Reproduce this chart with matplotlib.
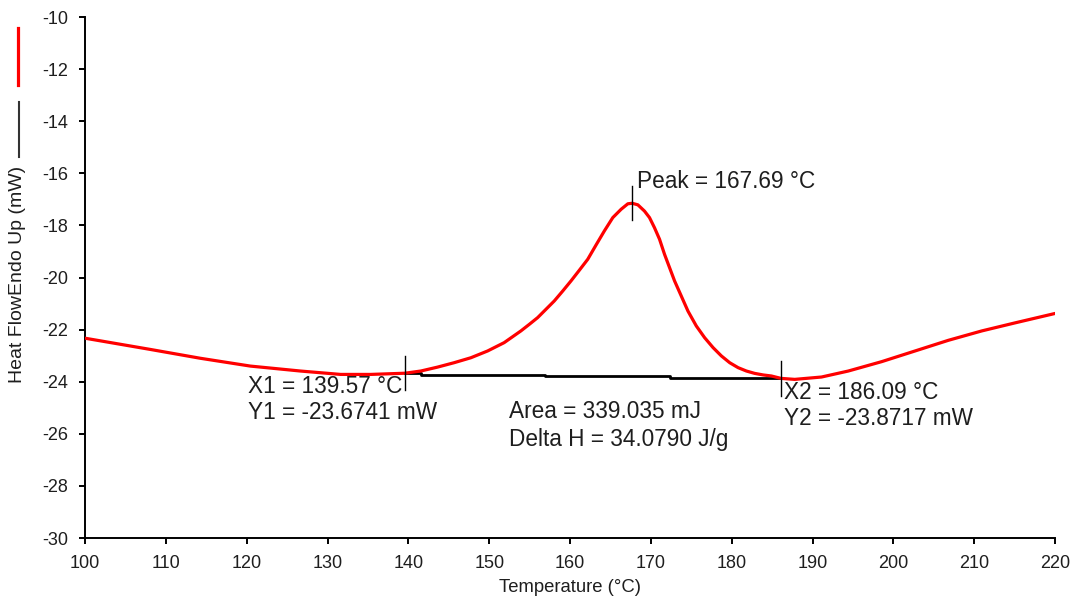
import matplotlib
matplotlib.use("Agg")
import matplotlib.pyplot as plt
from matplotlib.lines import Line2D

plt.rcParams['font.family'] = ['Liberation Sans', 'DejaVu Sans']
plt.rcParams['axes.unicode_minus'] = False

# ---- data ----
temperature = [100.0, 108.06, 114.26, 120.45, 126.65, 131.61, 135.33, 139.57,
               141.53, 143.6, 145.66, 147.73, 149.80, 151.85, 153.92, 154.95,
               155.99, 157.02, 158.05, 159.09, 160.12, 161.15, 162.19, 163.22,
               164.25, 165.29, 166.32, 167.15, 167.69, 168.39, 169.21, 169.83,
               170.45, 171.07, 171.69, 172.31, 172.93, 173.76, 174.59, 175.62,
               176.65, 177.69, 178.72, 179.75, 180.79, 181.82, 182.84, 183.88,
               184.91, 186.09, 187.80, 191.11, 194.42, 198.55, 202.68, 206.81,
               210.94, 215.07, 220.0]
heat_flow = [-22.33, -22.76, -23.10, -23.40, -23.59, -23.72, -23.72, -23.674,
             -23.59, -23.44, -23.27, -23.08, -22.82, -22.50, -22.05, -21.80,
             -21.54, -21.22, -20.90, -20.52, -20.13, -19.72, -19.30, -18.75,
             -18.21, -17.70, -17.38, -17.17, -17.15, -17.21, -17.45, -17.70,
             -18.09, -18.53, -19.11, -19.62, -20.13, -20.71, -21.29, -21.86,
             -22.31, -22.69, -23.01, -23.27, -23.46, -23.59, -23.68, -23.74,
             -23.78, -23.8717, -23.91, -23.82, -23.59, -23.23, -22.82, -22.41,
             -22.05, -21.74, -21.38]

baseline_t = [139.57, 141.53, 156.9, 172.4, 186.09]
baseline_hf = [-23.674, -23.735, -23.79, -23.872, -23.8717]

x1, y1 = 139.57, -23.6741
x2, y2 = 186.09, -23.8717
peak_t, peak_hf = 167.69, -17.15
area_text = "Area = 339.035 mJ"
dh_text = "Delta H = 34.0790 J/g"

x_ticks = list(range(100, 221, 10))
y_ticks = list(range(-30, -9, 2))

TXT = '#1e1e1e'

fig = plt.figure(figsize=(10.78, 6.01), dpi=100)
ax = fig.add_axes([0.0789, 0.1048, 0.8998, 0.8669])

ax.plot(temperature, heat_flow, color='#ff0000', lw=2.3, solid_joinstyle='round',
        solid_capstyle='round', zorder=3)
ax.step(baseline_t, baseline_hf, where='post', color='black', lw=2.0, zorder=2)

# tick marks at the limits and peak
for (xx, yy) in [(x1, y1), (x2, y2), (peak_t, peak_hf)]:
    ax.plot([xx, xx], [yy - 0.66, yy + 0.66], color='black', lw=1.0, zorder=4)

ax.set_xlim(100, 220)
ax.set_ylim(-30, -10)
ax.set_xticks(x_ticks)
ax.set_yticks(y_ticks)
for s in ['top', 'right']:
    ax.spines[s].set_visible(False)
for s in ['left', 'bottom']:
    ax.spines[s].set_linewidth(1.4)
ax.tick_params(direction='out', length=4, width=1.4, labelsize=13, pad=8, labelcolor=TXT)

ax.set_xlabel('Temperature (°C)', fontsize=13.3, color=TXT, labelpad=5)
ax.set_ylabel('Heat FlowEndo Up (mW)', fontsize=14, color=TXT)
ax.yaxis.set_label_coords(-0.061, 0.505)

fs = 16.3
ax.text(peak_t + 0.55, -16.30, f"Peak = {peak_t:.2f} °C", fontsize=fs, color=TXT, va='center', ha='left')
ax.text(120.2, -24.20, f"X1 = {x1:.2f} °C", fontsize=fs, color=TXT, va='center', ha='left')
ax.text(120.2, -25.20, f"Y1 = {y1:.4f} mW", fontsize=fs, color=TXT, va='center', ha='left')
ax.text(186.5, -24.43, f"X2 = {x2:.2f} °C", fontsize=fs, color=TXT, va='center', ha='left')
ax.text(186.5, -25.43, f"Y2 = {y2:.4f} mW", fontsize=fs, color=TXT, va='center', ha='left')
ax.text(152.4, -25.16, area_text, fontsize=fs, color=TXT, va='center', ha='left')
ax.text(152.4, -26.20, dh_text, fontsize=fs, color=TXT, va='center', ha='left')

# legend swatches (vertical lines at the far left)
fig.add_artist(Line2D([18.3 / 1078, 18.3 / 1078], [1 - 28 / 601, 1 - 85 / 601],
                      color='#ff0000', lw=2.3, transform=fig.transFigure))
fig.add_artist(Line2D([19 / 1078, 19 / 1078], [1 - 102 / 601, 1 - 157 / 601],
                      color='#333333', lw=1.5, transform=fig.transFigure))

fig.savefig('out.png', dpi=100)
